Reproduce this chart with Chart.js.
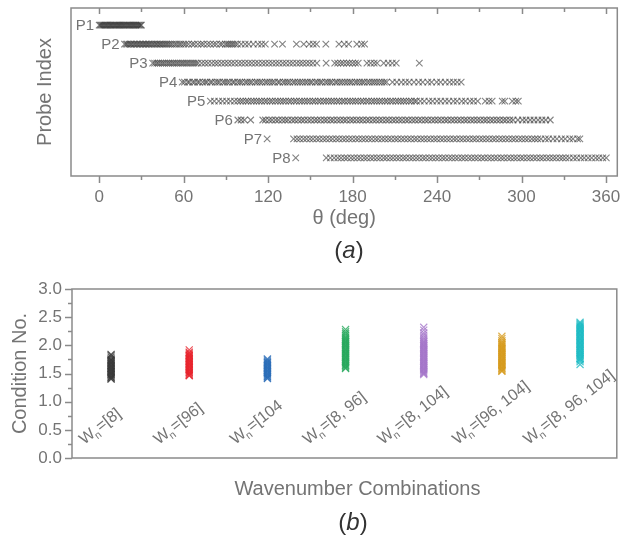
<!DOCTYPE html>
<html>
<head>
<meta charset="utf-8">
<script src="https://cdn.jsdelivr.net/npm/chart.js@4.4.1/dist/chart.umd.min.js"></script>
<style>
  body { margin: 0; background: #fff; }
  #wrap { position: relative; width: 623px; height: 535px; overflow: hidden; }
  canvas { position: absolute; left: 0; }
  .cap { position: absolute; width: 200px; text-align: center; font: 24px "Liberation Sans", Arial, sans-serif; color: #333; line-height: 28px; }
</style>
</head>
<body>
<div id="wrap">
  <canvas id="chartA" width="623" height="265" style="top:0"></canvas>
  <canvas id="chartB" width="623" height="270" style="top:265px"></canvas>
  <div class="cap" style="left:249px;top:236px">(<i>a</i>)</div>
  <div class="cap" style="left:253px;top:508px">(<i>b</i>)</div>
</div>
<script>
// ---------- (a) probe coverage ----------
const probeLabels = ["P1", "P2", "P3", "P4", "P5", "P6", "P7", "P8"];
const thetaTicks = [0, 60, 120, 180, 240, 300, 360];
const thetaMinor = [30, 90, 150, 210, 270, 330];

const p1Theta = [0,0.8,1.5,2.3,3,3.9,4.6,5.4,6.1,7,7.8,8.5,9.3,10.1,10.9,11.6,12.4,13.2,14,14.7,15.5,16.3,17.1,17.8,18.6,19.4,20.2,21,21.7,22.5,23.3,24.1,24.8,25.6,26.4,27.2,28,28.7,29.5,30];
const p2Theta = [18,19.1,20,21.2,22.3,23.1,24.4,25.3,26.5,27.4,28.6,29.5,30.7,31.6,32.8,33.7,34.9,35.8,37,38.1,39.2,40.4,41.3,42.6,43.5,44.7,45.8,47,48.1,49.3,50.6,52,53.7,55.1,56.8,58.2,60,61.5,
  63.4,65.9,67.6,70.1,72.4,74.2,76.8,78.9,81.3,83.2,85.8,87.4,89.6,91,92.3,93.8,95.1,96.6,98.2,100.9,103.7,106.2,109.5,112.8,115.4,118,
  124.6,130.2,140.1,145.3,149.2,152,154.4,161,170.3,174.1,177.2,183,186.4,188.5];
const p3Theta = [38,39.4,40.9,42.1,43.6,45,46.3,47.8,49.2,50.5,52,53.3,54.8,56.1,57.6,59,60.3,61.8,63.1,64.6,66,67.4,68.8,70.3,
  72.8,75.1,77.4,79.9,82.3,84.4,86.9,89.2,91.6,94,96.3,98.9,101.2,103.6,106.1,108.4,110.9,113.2,115.8,118.1,120.6,123,125.5,127.8,130.4,132.7,135.3,137.6,140.2,
  142.5,144.7,147.1,149.4,151.8,154.6,161.2,167.3,169.4,171.6,173.5,175.8,177.7,179.9,182,184,190.2,192.8,195.3,197.4,202.1,205.3,208.2,211,227.4];
const p4Theta = [59,60.6,62.9,64.1,66.4,67.8,69.9,71.2,73.5,75.3,76.6,78.9,80.2,82.4,84.1,85.5,87.8,89.3,91,92.6,94.8,96.1,98.3,99.9,101.4,103.7,105.2,107,108.5,110.8,112.3,114.1,115.7,117.9,119.4,121.2,123,124.6,126.9,128.2,130.5,132.1,133.8,135.4,137.6,139.1,141,142.7,144.4,146.3,147.9,149.8,151.2,153.5,155,156.9,158.3,160.6,162.2,163.9,165.4,167.7,169.1,171,172.6,174.5,176.2,178,179.5,181.7,183.2,185,186.8,188.3,190.4,192,193.9,195.5,197.2,199,200.8,202.5,204.1,
  208.3,211.4,214.6,217.5,220.2,223.6,226.9,229.8,233.4,236.1,239.7,242.5,245.8,248.9,251.6,254.3,257.1];
const p5Theta = [79,81.8,84.9,87.6,90.5,93.2,96,98.4,
  100.3,102.1,104.2,105.9,108,109.8,111.7,113.6,115.4,117.5,119.2,121.3,123,125.1,126.9,128.8,130.7,132.5,134.6,136.3,138.4,140.1,142.2,144,145.9,147.8,149.6,151.7,153.4,155.5,157.2,159.3,161.1,163,164.9,166.7,168.8,170.5,172.6,174.3,176.4,178.2,180.1,182,183.8,185.9,187.6,189.7,191.4,193.5,195.3,197.2,199.1,200.9,203,204.7,206.8,208.5,210.6,212.4,214.3,216.2,218,220.1,221.8,223.9,225.4,
  228.1,230.9,234.2,236.8,239.9,242.6,245.7,248.4,251.6,254.2,257.5,260.1,263.4,265.9,268.8,
  274.2,276.9,279.1,286.3,288.1,293.4,295.9,297.7];
const p6Theta = [98.5,100.8,103.2,107.6,
  116.2,118.1,120.7,122.8,125.3,127.4,129.9,132.1,134.2,136.8,138.9,141.3,143.6,145.7,148.2,150.4,152.9,155,157.3,159.8,161.9,164.4,166.5,169,171.2,173.6,175.7,178.3,180.4,182.8,185.1,187.3,189.8,191.9,194.4,196.6,199,201.2,203.7,205.8,208.3,210.5,212.9,215.1,217.6,219.7,222.2,224.4,226.8,229,231.5,233.6,236.1,238.3,240.7,242.9,245.4,247.5,250,252.2,254.6,256.8,259.3,261.4,263.9,266.1,268.5,270.7,273.2,275.3,277.8,280,282.4,284.6,287.1,289.2,291.7,294,
  297.4,300.6,303.2,306.1,308.8,311.7,314.5,317.2,320.4];
const p7Theta = [119.3,
  138.1,140.5,142.6,145.1,147.3,149.7,151.9,154.4,156.5,159,161.2,163.6,165.8,168.3,170.4,172.9,175.1,177.5,179.7,182.2,184.3,186.8,189,191.4,193.6,196.1,198.2,200.7,202.9,205.3,207.5,210,212.1,214.6,216.8,219.2,221.4,223.9,226,228.5,230.7,233.1,235.3,237.8,239.9,242.4,244.6,247,249.2,251.7,253.8,256.3,258.5,260.9,263.1,265.6,267.7,270.2,272.4,274.8,277,279.5,281.6,284.1,286.3,288.7,290.9,293.4,295.5,298,300.2,302.6,304.8,307.3,309.4,
  311.5,313.8,316.9,319.2,322.4,325.1,328.3,331,334.2,336.5,339.8,341.4];
const p8Theta = [139.6,
  161.3,164.2,166.9,169.5,171.8,174.2,176.3,178.8,181,183.4,185.6,188.1,190.2,192.7,194.9,197.3,199.5,202,204.1,206.6,208.8,211.2,213.4,215.9,218,220.5,222.7,225.1,227.3,229.8,231.9,234.4,236.6,239,241.2,243.7,245.8,248.3,250.5,252.9,255.1,257.6,259.7,262.2,264.4,266.8,269,271.5,273.6,276.1,278.3,280.7,282.9,285.4,287.5,290,292.2,294.6,296.8,299.3,301.4,303.9,306.1,308.5,310.7,313.2,315.3,317.8,320,322.4,324.6,327.1,329.2,331.5,
  333.9,336.8,339.2,342.1,344.5,347.3,349.8,352.6,354.9,357.7,360.2];
const probeTheta = [p1Theta, p2Theta, p3Theta, p4Theta, p5Theta, p6Theta, p7Theta, p8Theta];

// ---------- (b) condition numbers ----------
const comboLabels = ["[8]", "[96]", "[104", "[8, 96]", "[8, 104]", "[96, 104]", "[8, 96, 104]"];
const comboColors = ["#383838", "#e8242c", "#2a6cb8", "#26a85c", "#a475c9", "#d69a1c", "#1fbcc4"];
const cond8 = [1.40,1.41,1.43,1.44,1.46,1.48,1.49,1.51,1.53,1.54,1.56,1.58,1.59,1.61,1.63,1.64,1.66,1.68,1.69,1.71,1.73,1.74,1.76,1.79,1.82,1.84];
const cond96 = [1.46,1.47,1.49,1.51,1.52,1.54,1.56,1.57,1.59,1.61,1.62,1.64,1.66,1.67,1.69,1.71,1.72,1.74,1.76,1.77,1.79,1.81,1.82,1.84,1.86,1.88,1.92];
const cond104 = [1.41,1.42,1.44,1.45,1.47,1.49,1.50,1.52,1.54,1.55,1.57,1.59,1.60,1.62,1.64,1.65,1.67,1.69,1.70,1.72,1.74,1.76];
const cond8_96 = [1.59,1.60,1.62,1.64,1.65,1.67,1.69,1.71,1.72,1.74,1.76,1.78,1.79,1.81,1.83,1.85,1.86,1.88,1.90,1.92,1.93,1.95,1.97,1.99,2.00,2.02,2.04,2.06,2.07,2.09,2.11,2.13,2.15,2.18,2.21,2.24,2.28];
const cond8_104 = [1.48,1.50,1.51,1.53,1.55,1.57,1.58,1.60,1.62,1.64,1.65,1.67,1.69,1.71,1.72,1.74,1.76,1.78,1.79,1.81,1.83,1.85,1.86,1.88,1.90,1.92,1.93,1.95,1.97,1.99,2.00,2.02,2.04,2.06,2.08,2.11,2.14,2.18,2.22,2.27,2.32];
const cond96_104 = [1.54,1.55,1.57,1.59,1.60,1.62,1.64,1.66,1.67,1.69,1.71,1.73,1.74,1.76,1.78,1.80,1.81,1.83,1.85,1.87,1.88,1.90,1.92,1.94,1.95,1.97,1.99,2.01,2.03,2.05,2.08,2.12,2.16];
const cond8_96_104 = [1.66,1.71,1.74,1.76,1.77,1.79,1.81,1.83,1.84,1.86,1.88,1.90,1.91,1.93,1.95,1.97,1.98,2.00,2.02,2.04,2.05,2.07,2.09,2.11,2.12,2.14,2.16,2.18,2.19,2.21,2.23,2.25,2.26,2.28,2.30,2.32,2.33,2.35,2.37,2.39,2.41];
const condValues = [cond8, cond96, cond104, cond8_96, cond8_104, cond96_104, cond8_96_104];
const condTicks = [0, 0.5, 1.0, 1.5, 2.0, 2.5, 3.0];
const condMinor = [0.25, 0.75, 1.25, 1.75, 2.25, 2.75];

const FONT = '"Liberation Sans", Arial, sans-serif';
const TXT = "#747474";
const AXIS = "#8a8a8a";

function tickLine(ctx, x1, y1, x2, y2) {
    ctx.beginPath();
    ctx.moveTo(x1, y1);
    ctx.lineTo(x2, y2);
    ctx.stroke();
}

// keep the plot box where the figure has it (no extra room for edge labels)
function noEdgePad(s) {
    s.paddingLeft = 0;
    s.paddingRight = 0;
    s.paddingTop = 0;
    s.paddingBottom = 0;
}

// frame, ticks and the P labels for (a)
const frameA = {
    id: "frameA",
    afterDatasetsDraw(chart) {
        const {ctx, chartArea: a, scales: {x, y}} = chart;
        ctx.save();
        ctx.strokeStyle = AXIS;
        ctx.lineWidth = 1.5;
        ctx.strokeRect(a.left, a.top, a.right - a.left, a.bottom - a.top);
        thetaTicks.forEach(v => {
            const px = Math.round(x.getPixelForValue(v)) + 0.5;
            tickLine(ctx, px, a.bottom, px, a.bottom + 7);
            tickLine(ctx, px, a.top, px, a.top + 6);
        });
        thetaMinor.forEach(v => {
            const px = Math.round(x.getPixelForValue(v)) + 0.5;
            tickLine(ctx, px, a.bottom, px, a.bottom + 4);
            tickLine(ctx, px, a.top, px, a.top + 4);
        });
        ctx.fillStyle = TXT;
        ctx.font = "15px " + FONT;
        ctx.textAlign = "right";
        ctx.textBaseline = "middle";
        probeLabels.forEach((lab, i) => {
            const first = Math.min(...probeTheta[i]);
            ctx.fillText(lab, x.getPixelForValue(first) - 5, y.getPixelForValue(i + 1) + 1);
        });
        ctx.restore();
    }
};

// frame, ticks, rotated W_n labels and x title for (b)
const frameB = {
    id: "frameB",
    afterDatasetsDraw(chart) {
        const {ctx, chartArea: a, scales: {x, y}} = chart;
        ctx.save();
        ctx.strokeStyle = AXIS;
        ctx.lineWidth = 1.5;
        ctx.strokeRect(a.left, a.top, a.right - a.left, a.bottom - a.top);
        condTicks.forEach(v => {
            const py = Math.round(y.getPixelForValue(v)) + 0.5;
            tickLine(ctx, a.left - 7, py, a.left, py);
        });
        condMinor.forEach(v => {
            const py = Math.round(y.getPixelForValue(v)) + 0.5;
            tickLine(ctx, a.left - 4, py, a.left, py);
        });

        const ang = 38 * Math.PI / 180;
        const big = "16px " + FONT;
        const small = "10.5px " + FONT;
        ctx.fillStyle = TXT;
        ctx.textBaseline = "alphabetic";
        ctx.textAlign = "left";
        comboLabels.forEach((lab, i) => {
            const rest = "=" + lab;
            ctx.font = big;
            const wW = ctx.measureText("W").width;
            const wR = ctx.measureText(rest).width;
            ctx.font = small;
            const wN = ctx.measureText("n").width;
            const w = wW + wN + wR;
            const cx = x.getPixelForValue(i) - 8;
            const sx = cx - (w / 2) * Math.cos(ang);
            const sy = a.bottom - 13;
            ctx.save();
            ctx.translate(sx, sy);
            ctx.rotate(-ang);
            ctx.font = big;
            ctx.fillText("W", 0, 0);
            ctx.font = small;
            ctx.fillText("n", wW - 1, 4);
            ctx.font = big;
            ctx.fillText(rest, wW + wN, 0);
            ctx.restore();
        });

        ctx.font = "20px " + FONT;
        ctx.textAlign = "center";
        ctx.textBaseline = "middle";
        ctx.fillText("Wavenumber Combinations", (a.left + a.right) / 2 + 13, a.bottom + 31);
        ctx.restore();
    }
};

const chartA = new Chart(document.getElementById("chartA"), {
    type: "scatter",
    data: {
        datasets: probeTheta.map((arr, i) => ({
            data: arr.map(t => ({x: t, y: i + 1})),
            pointStyle: "crossRot",
            radius: 4.6,
            borderWidth: 1.1,
            borderColor: "rgba(48,48,48,0.6)",
            backgroundColor: "transparent"
        }))
    },
    options: {
        responsive: false,
        animation: false,
        events: [],
        layout: {padding: {top: 8, right: 3, left: 0, bottom: 29}},
        plugins: {legend: {display: false}, tooltip: {enabled: false}},
        scales: {
            x: {
                type: "linear",
                min: -20,
                max: 368,
                afterBuildTicks: s => { s.ticks = thetaTicks.map(v => ({value: v})); },
                afterFit: s => { s.height = 60; noEdgePad(s); },
                grid: {display: false, drawTicks: false},
                border: {display: false},
                ticks: {color: TXT, font: {family: FONT, size: 17}, padding: 11, maxRotation: 0},
                title: {display: true, text: "θ (deg)", color: TXT, font: {family: FONT, size: 20}, padding: {top: 0, bottom: 6}}
            },
            y: {
                type: "linear",
                min: 0.1,
                max: 8.95,
                reverse: true,
                afterFit: s => { s.width = 71; noEdgePad(s); },
                grid: {display: false, drawTicks: false},
                border: {display: false},
                ticks: {display: false},
                title: {display: true, text: "Probe Index", color: TXT, font: {family: FONT, size: 20}, padding: {top: 33, bottom: 0}}
            }
        }
    },
    plugins: [frameA]
});

const chartB = new Chart(document.getElementById("chartB"), {
    type: "scatter",
    data: {
        datasets: condValues.map((arr, i) => ({
            data: arr.map(v => ({x: i, y: v})),
            pointStyle: "crossRot",
            radius: 5,
            borderWidth: 1.2,
            borderColor: comboColors[i] + "c8",
            backgroundColor: "transparent"
        }))
    },
    options: {
        responsive: false,
        animation: false,
        events: [],
        layout: {padding: {top: 24, right: 3, left: 0, bottom: 32}},
        plugins: {legend: {display: false}, tooltip: {enabled: false}},
        scales: {
            x: {
                type: "linear",
                min: -0.5,
                max: 6.47,
                afterFit: s => { s.height = 45; noEdgePad(s); },
                grid: {display: false, drawTicks: false},
                border: {display: false},
                ticks: {display: false},
                title: {display: false}
            },
            y: {
                type: "linear",
                min: 0,
                max: 3,
                afterBuildTicks: s => { s.ticks = condTicks.map(v => ({value: v})); },
                afterFit: s => { s.width = 72; noEdgePad(s); },
                grid: {display: false, drawTicks: false},
                border: {display: false},
                ticks: {color: TXT, font: {family: FONT, size: 17}, padding: 10, callback: v => v.toFixed(1)},
                title: {display: true, text: "Condition No.", color: TXT, font: {family: FONT, size: 20}, padding: {top: 8, bottom: 0}}
            }
        }
    },
    plugins: [frameB]
});
</script>
</body>
</html>
